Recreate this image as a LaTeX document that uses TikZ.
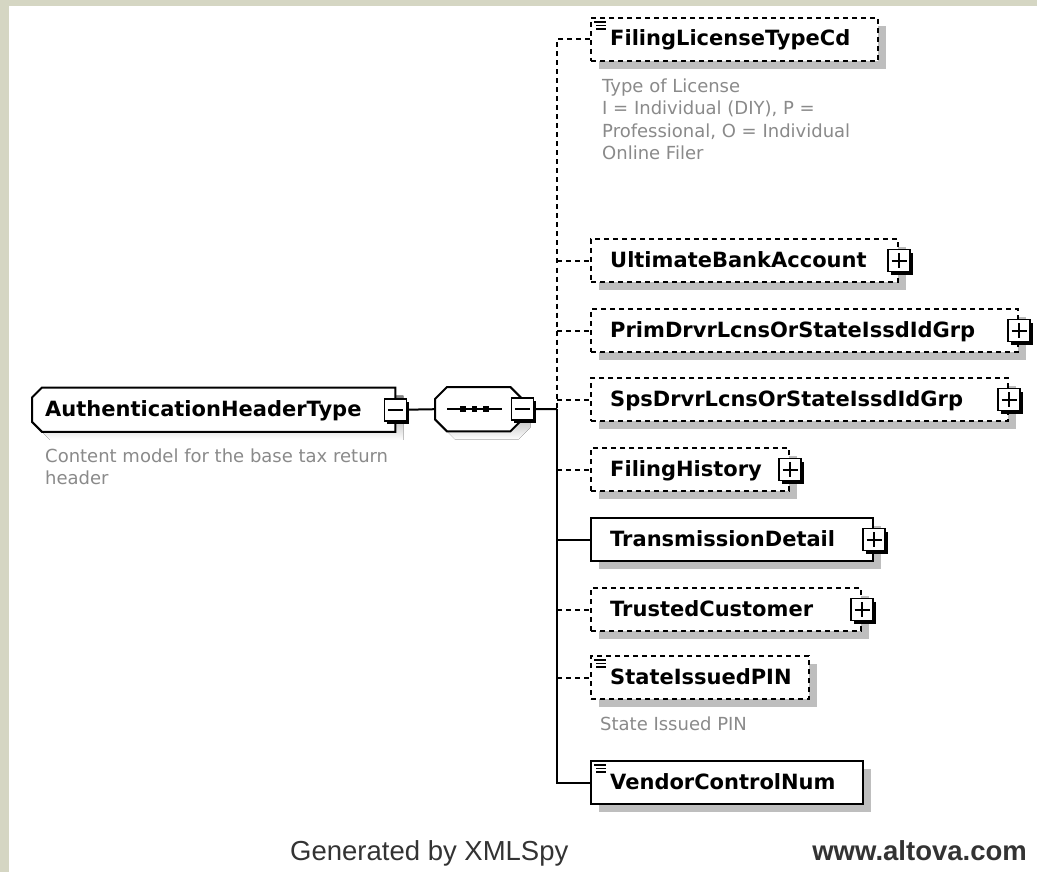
\documentclass[tikz,border=0pt]{standalone}
\usepackage{fontspec}
\setmainfont{DejaVu Sans}
\newfontfamily\footfont{Liberation Sans}
\usetikzlibrary{calc,shadows}
\definecolor{frame}{HTML}{D5D6C3}
\definecolor{shade}{HTML}{BEBEBE}
\definecolor{notegray}{HTML}{8A8A8A}
\definecolor{foot}{HTML}{333333}
\tikzset{
  wire/.style={line width=2pt},
  opt/.style={dash pattern=on 5pt off 4pt},
  elem/.style={rectangle, draw, wire, fill=white, anchor=north west, inner sep=0pt,
    minimum height=43pt,
    general shadow={fill=shade, shadow xshift=8pt, shadow yshift=-8pt}},
  simple/.style={path picture={
    \draw[line width=1.3pt, solid]
      ($(path picture bounding box.north west)+(3,4)$) -- +(12,0)
      ($(path picture bounding box.north west)+(5,7.5)$) -- +(10,0)
      ($(path picture bounding box.north west)+(5,11)$) -- +(10,0);}},
  pmbox/.style={rectangle, draw, line width=1.6pt, fill=white, minimum size=22pt,
    inner sep=0pt, solid,
    general shadow={fill=black, shadow xshift=3pt, shadow yshift=-3pt}},
  pmminus/.style={pmbox, path picture={
    \draw[line width=2pt]
      ($(path picture bounding box.west)+(3.5,0)$) -- ($(path picture bounding box.east)+(-3.5,0)$);}},
  pmplus/.style={pmbox, path picture={
    \draw[line width=2pt]
      ($(path picture bounding box.west)+(3.5,0)$) -- ($(path picture bounding box.east)+(-3.5,0)$)
      ($(path picture bounding box.north)+(0,3.5)$) -- ($(path picture bounding box.south)+(0,-3.5)$);}},
  lbl/.style={anchor=base west, inner sep=0pt, font=\bfseries\fontsize{21}{25}\selectfont},
  note/.style={anchor=north west, inner sep=0pt, align=left, text=notegray,
    font=\fontsize{18}{22.5}\selectfont},
  ghost/.style={rectangle, inner sep=0pt, anchor=north west},
  % complex type: left corners cut off, optionally displaced by #1
  hdrshape/.style={insert path={
    ($(root.north west)+(10+#1,#1)$) -- ($(root.north east)+(#1,#1)$)
    -- ($(root.south east)+(#1,#1)$)
    -- ($(root.south west)+(10+#1,#1)$) -- ($(root.south west)+(#1,#1-10)$)
    -- ($(root.north west)+(#1,#1+10)$) -- cycle}},
  hdrshape/.default=0,
  % sequence compositor: octagon, optionally displaced by #1
  seqshape/.style={insert path={
    ($(seq.north west)+(12+#1,#1)$) -- ($(seq.north east)+(#1-12,#1)$)
    -- ($(seq.north east)+(#1,#1+12)$) -- ($(seq.south east)+(#1,#1-12)$)
    -- ($(seq.south east)+(#1-12,#1)$) -- ($(seq.south west)+(#1+12,#1)$)
    -- ($(seq.south west)+(#1,#1-12)$) -- ($(seq.north west)+(#1,#1+12)$) -- cycle}},
  seqshape/.default=0,
  footer/.style={inner sep=0pt, text=foot},
}
\begin{document}
\begin{tikzpicture}[x=1pt,y=-1pt]
\fill[frame] (0,0) rectangle (1037,872);
\fill[white] (9,6) rectangle (1037,872);
\useasboundingbox (0,0) rectangle (1037,872);

% root complex type
\node[ghost, minimum width=363pt, minimum height=44pt] (root) at (32,387.5) {};
\fill[shade, hdrshape=8];
\draw[wire, fill=white, hdrshape];
\node[lbl] (rootlbl) at ($(root.west)+(13,6.5)$) {AuthenticationHeaderType};
\node[note, font=\fontsize{18}{22}\selectfont] (rootnote) at (45,448.5)
  {Content model for the base tax return\\header};

% sequence compositor
\node[ghost, minimum width=87pt, minimum height=44pt] (seq) at (435,387) {};
\fill[shade, seqshape=8];
\draw[wire, fill=white, seqshape];
\draw[wire] ($(seq.center)+(-31.5,0)$) -- ($(seq.center)+(23.5,0)$);
\foreach \dx in {-15.5,-4,7.5}
  \fill ($(seq.center)+(\dx-2.75,-2.75)$) rectangle +(5.5,5.5);

\node[pmminus] (rootpm) at (root.east) {};
\node[pmminus] (seqpm) at (seq.east) {};
\draw[wire] (rootpm.east) -- (seq.west);

% child elements
\node[elem, opt, simple, minimum width=287pt] (fltc) at (590,17) {};
\node[elem, opt, minimum width=307pt] (uba) at (590,238) {};
\node[elem, opt, minimum width=427pt] (prim) at (590,308) {};
\node[elem, opt, minimum width=417pt] (sps) at (590,377) {};
\node[elem, opt, minimum width=198pt] (fh) at (590,447) {};
\node[elem, minimum width=282pt] (td) at (590,517) {};
\node[elem, opt, minimum width=270pt] (tc) at (590,587) {};
\node[elem, opt, simple, minimum width=218pt] (sip) at (590,655) {};
\node[elem, simple, minimum width=272pt] (vcn) at (590,760) {};

\node[lbl] (fltcl) at ($(fltc.west)+(20,6.5)$) {FilingLicenseTypeCd};
\node[lbl] (ubal) at ($(uba.west)+(20,6.5)$) {UltimateBankAccount};
\node[lbl] (priml) at ($(prim.west)+(20,6.5)$) {PrimDrvrLcnsOrStateIssdIdGrp};
\node[lbl] (spsl) at ($(sps.west)+(20,6.5)$) {SpsDrvrLcnsOrStateIssdIdGrp};
\node[lbl] (fhl) at ($(fh.west)+(20,6.5)$) {FilingHistory};
\node[lbl] (tdl) at ($(td.west)+(20,6.5)$) {TransmissionDetail};
\node[lbl] (tcl) at ($(tc.west)+(20,6.5)$) {TrustedCustomer};
\node[lbl] (sipl) at ($(sip.west)+(20,6.5)$) {StateIssuedPIN};
\node[lbl] (vcnl) at ($(vcn.west)+(20,6.5)$) {VendorControlNum};

\foreach \n in {uba,prim,sps,fh,td,tc}
  \node[pmplus] (\n pm) at (\n.east) {};

\node[note] (fltcn) at (602,78.5)
  {Type of License\\I = Individual (DIY), P =\\Professional, O = Individual\\Online Filer};
\node[note] (sipn) at (600,716.5) {State Issued PIN};

% connectors from the sequence to its children
\coordinate (hub) at (557,409);
\draw[wire] (seqpm.east) -- (hub);
\draw[wire, opt] (fltc.west) -- (fltc.west -| hub) -- (hub);
\draw[wire] (hub) -- (vcn.west -| hub) -- (vcn.west);
\foreach \n in {uba,prim,sps,fh,tc,sip}
  \draw[wire, opt] (\n.west -| hub) -- (\n.west);
\draw[wire] (td.west -| hub) -- (td.west);

% footer
\node[footer, anchor=base west, font=\footfont\fontsize{27.5}{30}\selectfont]
  (gen) at (290,860) {Generated by XMLSpy};
\node[footer, anchor=base east, font=\footfont\bfseries\fontsize{27.5}{30}\selectfont]
  (web) at (1027,860) {www.altova.com};
\end{tikzpicture}
\end{document}
